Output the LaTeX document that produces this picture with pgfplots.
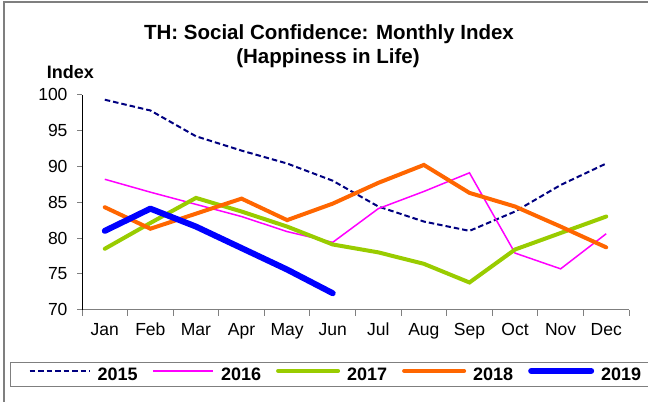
\documentclass[border=0pt]{standalone}
\usepackage{fontspec}
\setmainfont{Liberation Sans}
\usepackage{pgfplots}
\pgfplotsset{compat=1.18}

\definecolor{c15}{HTML}{000080}
\definecolor{c16}{HTML}{FF00FF}
\definecolor{c17}{HTML}{99CC00}
\definecolor{c18}{HTML}{FF6600}
\definecolor{c19}{HTML}{0000FF}
\definecolor{frame}{HTML}{7F7F7F}

\begin{document}
\begin{tikzpicture}
\useasboundingbox (0,0) rectangle (648bp,-402bp);
% chart frame (only top and left edges are visible in the crop)
\draw[frame, line width=1.2bp] (4bp,-402bp) -- (4bp,-2bp) -- (648bp,-2bp);

\node[anchor=base, font=\bfseries\fontsize{20.5bp}{24bp}\selectfont] at (329bp,-39.3bp) {TH: Social Confidence: Monthly Index};
\node[anchor=base, font=\bfseries\fontsize{20.5bp}{24bp}\selectfont] at (328bp,-63bp) {(Happiness in Life)};
\node[anchor=base west, inner sep=0pt, font=\bfseries\fontsize{18bp}{21bp}\selectfont] at (46.7bp,-78.3bp) {Index};

\begin{axis}[
  at={(82bp,-309.7bp)}, anchor=south west,
  scale only axis, width=547bp, height=215bp,
  xmin=-0.5, xmax=11.5, ymin=70, ymax=100,
  axis lines=left, axis line style={-},
  x axis line style={frame, line width=1bp},
  y axis line style={black, line width=1bp},
  tick align=outside,
  xtick={0,...,11},
  xticklabels={Jan,Feb,Mar,Apr,May,Jun,Jul,Aug,Sep,Oct,Nov,Dec},
  minor xtick={-0.5,0.5,...,11.5},
  major x tick style={draw=none},
  minor x tick style={frame, line width=1bp},
  minor tick length=6bp,
  ytick={70,75,...,100},
  y tick style={frame, line width=1bp},
  major tick length=5bp,
  tick label style={font=\fontsize{17.5bp}{20bp}\selectfont},
  yticklabel style={xshift=-6bp},
  xticklabel style={yshift=-5bp},
  /pgf/number format/assume math mode=true,
  clip=false,
  legend columns=5,
  legend style={at={(-0.1316,-0.243)}, anchor=north west,
    draw=frame, line width=1bp, inner xsep=18bp, inner ysep=5bp,
    font=\bfseries\fontsize{18bp}{21bp}\selectfont,
    nodes={inner sep=0pt},
    /tikz/every odd column/.append style={column sep=7bp},
    /tikz/every even column/.append style={column sep=15bp}},
  legend image code/.code={\draw[#1] (0bp,0.36em) -- (60bp,0.36em);},
]
\addplot[c15, line width=2bp, dash pattern=on 5.5bp off 3bp] coordinates {
(0,99.3) (1,97.8) (2,94.2) (3,92.2) (4,90.4) (5,88.0) (6,84.4) (7,82.3) (8,81.0) (9,83.7) (10,87.4) (11,90.4)};
\addplot[c16, line width=1.5bp] coordinates {
(0,88.2) (1,86.4) (2,84.7) (3,83.0) (4,80.9) (5,79.4) (6,84.1) (7,86.5) (8,89.1) (9,77.9) (10,75.7) (11,80.6)};
\addplot[c17, line width=4bp, line cap=round] coordinates {
(0,78.5) (1,82.1) (2,85.6) (3,83.7) (4,81.6) (5,79.1) (6,78.0) (7,76.4) (8,73.8) (9,78.4) (10,80.7) (11,83.0)};
\addplot[c18, line width=4bp, line cap=round] coordinates {
(0,84.3) (1,81.3) (2,83.4) (3,85.5) (4,82.5) (5,84.8) (6,87.7) (7,90.2) (8,86.3) (9,84.4) (10,81.6) (11,78.7)};
\addplot[c19, line width=6bp, line cap=round, line join=round] coordinates {
(0,81.0) (1,84.1) (2,81.6) (3,78.6) (4,75.6) (5,72.3)};
\legend{2015,2016,2017,2018,2019}
\end{axis}
\end{tikzpicture}
\end{document}
